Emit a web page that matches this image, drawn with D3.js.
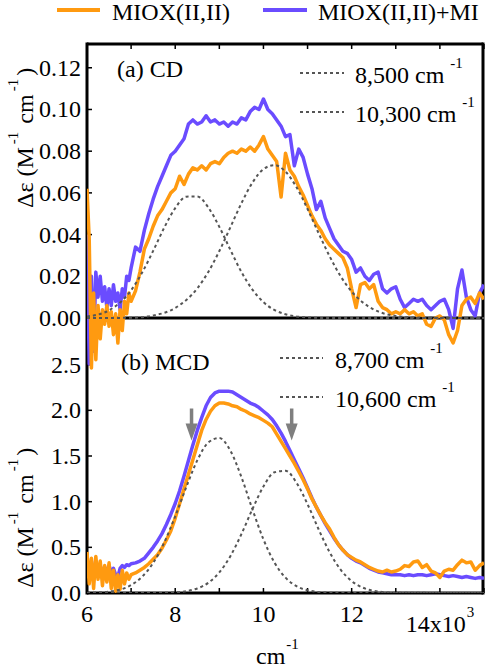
<!DOCTYPE html>
<html><head><meta charset="utf-8">
<script src="https://cdn.jsdelivr.net/npm/d3@7"></script>
</head>
<body style="margin:0"><svg id="c" width="488" height="668"></svg>
<script>
// ---------- data ----------
const seriesNames = ["MIOX(II,II)", "MIOX(II,II)+MI"];
const xGrid = [6.00,6.05,6.10,6.15,6.20,6.25,6.30,6.35,6.40,6.45,6.50,6.55,6.60,6.65,6.70,6.75,6.80,6.85,6.90,6.95,7.00,
  7.1,7.2,7.3,7.4,7.5,7.6,7.7,7.8,7.9,
  8.0,8.1,8.2,8.3,8.4,8.5,8.6,8.7,8.8,8.9,
  9.0,9.1,9.2,9.3,9.4,9.5,9.6,9.7,9.8,9.9,
  10.0,10.1,10.2,10.3,10.4,10.5,10.6,10.7,10.8,10.9,
  11.0,11.1,11.2,11.3,11.4,11.5,11.6,11.7,11.8,11.9,
  12.0,12.1,12.2,12.3,12.4,12.5,12.6,12.7,12.8,12.9,
  13.0,13.1,13.2,13.3,13.4,13.5,13.6,13.7,13.8,13.9,
  14.0,14.1,14.2,14.3,14.4,14.5,14.6,14.7,14.8,14.9,15.0];

// (a) CD, M^-1 cm^-1
const cdOrange = [0.062,0.038,-0.024,0.012,-0.020,0.006,-0.010,0.004,-0.003,0.006,-0.004,0.003,-0.008,0.002,-0.012,0.004,-0.006,0.008,0.002,0.012,0.008,
  0.013,0.022,0.033,0.038,0.044,0.049,0.052,0.056,0.060,
  0.062,0.068,0.064,0.069,0.072,0.071,0.073,0.071,0.074,0.075,
  0.074,0.077,0.079,0.080,0.079,0.081,0.080,0.082,0.080,0.083,
  0.087,0.081,0.078,0.075,0.058,0.079,0.071,0.068,0.063,0.059,
  0.054,0.049,0.045,0.042,0.038,0.035,0.033,0.031,0.029,0.024,
  0.014,0.005,0.016,0.017,0.014,0.016,0.008,0.005,0.004,0.002,
  0.003,0.002,0.004,0.002,0.003,0.001,0.002,-0.003,-0.004,0.000,
  0.001,-0.001,-0.008,-0.012,-0.006,0.006,0.009,0.010,0.007,0.012,0.009];
const cdBlue = [0.040,-0.022,0.020,-0.016,0.022,0.010,0.020,0.008,0.015,0.005,0.014,0.006,0.016,0.008,0.012,0.004,0.014,0.010,0.020,0.018,0.024,
  0.034,0.032,0.042,0.050,0.057,0.063,0.068,0.073,0.078,
  0.080,0.083,0.086,0.093,0.095,0.093,0.094,0.097,0.094,0.095,
  0.093,0.094,0.092,0.094,0.093,0.096,0.095,0.099,0.101,0.100,
  0.105,0.100,0.098,0.095,0.092,0.087,0.088,0.073,0.081,0.077,
  0.069,0.062,0.052,0.056,0.048,0.043,0.038,0.035,0.032,0.031,
  0.028,0.022,0.024,0.020,0.018,0.021,0.022,0.014,0.012,0.014,
  0.015,0.009,0.005,0.007,0.009,0.008,0.009,0.006,0.004,0.006,
  0.008,0.009,0.004,-0.005,0.014,0.023,0.010,0.004,0.001,0.012,0.016];

// (b) MCD
const mcdOrange = [0.45,0.10,0.38,0.05,0.40,0.15,0.35,0.08,0.30,0.12,0.33,0.05,0.25,0.02,0.20,0.04,0.25,0.10,0.22,0.15,0.20,
  0.22,0.25,0.28,0.32,0.37,0.42,0.49,0.58,0.68,
  0.82,0.98,1.14,1.30,1.46,1.62,1.78,1.90,1.99,2.05,
  2.08,2.08,2.07,2.05,2.04,2.01,1.99,1.96,1.94,1.92,
  1.89,1.86,1.82,1.74,1.66,1.58,1.50,1.42,1.33,1.24,
  1.14,1.03,0.94,0.85,0.77,0.70,0.61,0.53,0.47,0.42,
  0.39,0.36,0.34,0.31,0.28,0.26,0.24,0.23,0.25,0.23,
  0.24,0.26,0.30,0.29,0.34,0.35,0.28,0.31,0.24,0.22,
  0.17,0.24,0.26,0.25,0.31,0.36,0.33,0.34,0.25,0.30,0.33];
const mcdBlue = [0.30,0.22,0.35,0.18,0.32,0.25,0.30,0.20,0.28,0.24,0.30,0.22,0.27,0.20,0.18,0.27,0.30,0.28,0.31,0.30,0.32,
  0.33,0.35,0.38,0.44,0.50,0.57,0.65,0.75,0.86,
  0.98,1.12,1.28,1.45,1.62,1.78,1.92,2.05,2.14,2.19,
  2.21,2.21,2.21,2.20,2.17,2.14,2.11,2.08,2.06,2.03,
  1.99,1.95,1.90,1.83,1.75,1.66,1.56,1.46,1.36,1.26,
  1.15,1.04,0.94,0.85,0.76,0.68,0.60,0.53,0.47,0.42,
  0.38,0.35,0.33,0.30,0.27,0.25,0.23,0.22,0.21,0.20,
  0.20,0.20,0.19,0.20,0.19,0.20,0.20,0.19,0.20,0.21,
  0.20,0.19,0.18,0.19,0.18,0.17,0.18,0.17,0.16,0.17,0.16];

// Gaussian components
const cdBand1X = [6.0,6.5,7.0,7.25,7.5,7.75,8.0,8.25,8.5,8.75,9.0,9.25,9.5,9.75,10.0,10.5,11.0,11.5,12.0,15.0];
const cdBand1Y = [0.0007,0.0037,0.0133,0.0218,0.0322,0.0433,0.0527,0.0582,0.0583,0.0530,0.0437,0.0327,0.0221,0.0136,0.0076,0.0018,0.0003,0.0,0.0,0.0];
const cdBand2X = [6.0,7.0,7.5,8.0,8.5,8.75,9.0,9.25,9.5,9.75,10.0,10.25,10.5,10.75,11.0,11.25,11.5,11.75,12.0,12.25,12.5,13.0,13.5,15.0];
const cdBand2Y = [0.0,0.0001,0.0012,0.0048,0.0142,0.0221,0.0321,0.0435,0.055,0.0649,0.0714,0.0733,0.0702,0.0627,0.0523,0.0407,0.0296,0.020,0.0127,0.0075,0.0041,0.001,0.0002,0.0];
const mcdBand1X = [6.0,6.5,7.0,7.25,7.5,7.75,8.0,8.25,8.5,8.75,9.0,9.25,9.5,9.75,10.0,10.25,10.5,10.75,11.0,11.5,12.0,15.0];
const mcdBand1Y = [0.002,0.016,0.087,0.178,0.329,0.552,0.840,1.159,1.452,1.648,1.697,1.559,1.27,0.917,0.587,0.333,0.168,0.075,0.030,0.003,0.0,0.0];
const mcdBand2X = [6.0,7.5,8.0,8.5,8.75,9.0,9.25,9.5,9.75,10.0,10.25,10.5,10.75,11.0,11.25,11.5,11.75,12.0,12.25,12.5,13.0,15.0];
const mcdBand2Y = [0.0,0.0,0.007,0.050,0.112,0.225,0.403,0.644,0.918,1.166,1.322,1.338,1.207,0.972,0.698,0.447,0.255,0.130,0.059,0.024,0.003,0.0];

const cdBandLabels = ["8,500 cm", "10,300 cm"];
const mcdBandLabels = ["8,700 cm", "10,600 cm"];
const arrowX = [8.37, 10.64];
const arrowTop = [2.02, 2.02];
const arrowTip = [1.67, 1.67];

const yTopTicks = [0,0.02,0.04,0.06,0.08,0.10,0.12];
const yBotTicks = [0,0.5,1.0,1.5,2.0,2.5];
const xLabelTicks = [6,8,10,12];
const xMinorTicks = [6,7,8,9,10,11,12,13,14,15];

// ---------- drawing ----------
const FONT = "Liberation Serif";
const ORANGE = "#ff9a10", BLUE = "#6a4cff", DASH = "#555";
const svg = d3.select("#c");
const x = d3.scaleLinear().domain([6,15]).range([87,484]);
const yTop = d3.scaleLinear().domain([0,0.1314]).range([318,44]);
const yBot = d3.scaleLinear().domain([0,3.0]).range([593,319]);

function txt(parent){ return parent.append("text").attr("font-family",FONT); }
function supText(parent, px, py, main, sup, fs, opts={}) {
  const t = txt(parent).attr("x",px).attr("y",py).attr("font-size",fs);
  if (opts.anchor) t.attr("text-anchor",opts.anchor);
  t.append("tspan").text(main);
  t.append("tspan").attr("font-size",15).attr("dx",opts.dx ?? 5).attr("dy",-15).text(sup);
  return t;
}

// top legend
const legend = [[57,100,112,ORANGE],[263,307,318,BLUE]];
legend.forEach((l,i)=>{
  svg.append("line").attr("x1",l[0]).attr("x2",l[1]).attr("y1",10).attr("y2",10).attr("stroke",l[3]).attr("stroke-width",4);
  txt(svg).attr("x",l[2]).attr("y",20).attr("font-size",24).text(seriesNames[i]);
});

// frame
const frame = svg.append("g").attr("stroke","#000").attr("stroke-width",3).attr("fill","none");
frame.append("line").attr("x1",87).attr("x2",87).attr("y1",yTop(0.1314)-1.5).attr("y2",yBot(0)+1.5);
frame.append("line").attr("x1",483).attr("x2",483).attr("y1",yTop(0.1314)-1.5).attr("y2",yBot(0)+1.5);
frame.append("line").attr("x1",87).attr("x2",483).attr("y1",yTop(0.1314)).attr("y2",yTop(0.1314));
frame.append("line").attr("x1",87).attr("x2",483).attr("y1",yTop(0)).attr("y2",yTop(0));
frame.append("line").attr("x1",87).attr("x2",483).attr("y1",yBot(0)).attr("y2",yBot(0));

// ticks and tick labels from the scales
function ticksLeft(yS, vals, fmt){
  vals.forEach(v=>{
    svg.append("line").attr("x1",87).attr("x2",92).attr("y1",yS(v)).attr("y2",yS(v)).attr("stroke","#000").attr("stroke-width",1.5);
    txt(svg).attr("x",81).attr("y",yS(v)+8).attr("text-anchor","end").attr("font-size",24).text(fmt(v));
  });
}
ticksLeft(yTop, yTopTicks, d3.format(".2f"));
ticksLeft(yBot, yBotTicks, d3.format(".1f"));
xLabelTicks.forEach(v=>{
  txt(svg).attr("x",x(v)).attr("y",622).attr("text-anchor","middle").attr("font-size",24).text(String(v));
});
xMinorTicks.forEach(v=>{
  svg.append("line").attr("x1",x(v)).attr("x2",x(v)).attr("y1",yBot(0)).attr("y2",yBot(0)-5).attr("stroke","#000").attr("stroke-width",1.5);
  svg.append("line").attr("x1",x(v)).attr("x2",x(v)).attr("y1",yTop(0.1314)).attr("y2",yTop(0.1314)+5).attr("stroke","#000").attr("stroke-width",1.5);
});
supText(svg, x(14), 632, "14x10", "3", 24, {anchor:"middle", dx:1});
supText(svg, 256, 664, "cm", "-1", 24, {dx:1});

// y axis titles
function yTitle(px, py){
  const t = txt(svg).attr("transform",`translate(${px},${py}) rotate(-90)`).attr("font-size",24);
  t.append("tspan").text("\u0394\u03b5 (M");
  t.append("tspan").attr("font-size",15).attr("dx",3).attr("dy",-15).text("-1");
  t.append("tspan").attr("dy",15).attr("dx",2).text(" cm");
  t.append("tspan").attr("font-size",15).attr("dx",3).attr("dy",-15).text("-1");
  t.append("tspan").attr("dy",15).attr("dx",3).text(")");
}
yTitle(33, 208);
yTitle(33, 588);

// panels: nested svg viewports do the clipping
function drawPanel(vb, yS, blue, orange, b1x, b1y, b2x, b2y){
  const g = svg.append("svg").attr("x",vb[0]).attr("y",vb[1]).attr("width",vb[2]).attr("height",vb[3])
    .attr("viewBox",vb.join(" ")).attr("overflow","hidden");
  const line = d3.line().x((d,i)=>x(xGrid[i])).y(d=>yS(d));
  g.append("path").datum(blue).attr("d",line).attr("fill","none").attr("stroke",BLUE).attr("stroke-width",3.5).attr("stroke-linejoin","round");
  g.append("path").datum(orange).attr("d",line).attr("fill","none").attr("stroke",ORANGE).attr("stroke-width",3.5).attr("stroke-linejoin","round");
  const bl = d3.line().curve(d3.curveMonotoneX).x(d=>x(d[0])).y(d=>yS(d[1]));
  [[b1x,b1y],[b2x,b2y]].forEach(([bx,by])=>{
    g.append("path").datum(bx.map((v,i)=>[v,by[i]])).attr("d",bl).attr("fill","none")
      .attr("stroke",DASH).attr("stroke-width",2).attr("stroke-dasharray","3,3");
  });
}
drawPanel([87,44,397,336], yTop, cdBlue, cdOrange, cdBand1X, cdBand1Y, cdBand2X, cdBand2Y);
drawPanel([87,319,397,274], yBot, mcdBlue, mcdOrange, mcdBand1X, mcdBand1Y, mcdBand2X, mcdBand2Y);

// arrows
arrowX.forEach((ax,i)=>{
  const px = x(ax), top = yBot(arrowTop[i]), tip = yBot(arrowTip[i]);
  svg.append("line").attr("x1",px).attr("x2",px).attr("y1",top).attr("y2",tip-14).attr("stroke","#7f7f7f").attr("stroke-width",3.5);
  svg.append("path").attr("d",`M${px-6},${tip-17}L${px+6},${tip-17}L${px},${tip}Z`).attr("fill","#7f7f7f");
});

// panel labels
txt(svg).attr("x",117).attr("y",77).attr("font-size",24).text("(a) CD");
txt(svg).attr("x",121).attr("y",370).attr("font-size",24).text("(b) MCD");

// band legends
function bandLegend(lx1,lx2,tx,ys,labels){
  labels.forEach((lab,i)=>{
    svg.append("line").attr("x1",lx1).attr("x2",lx2).attr("y1",ys[i]).attr("y2",ys[i])
      .attr("stroke",DASH).attr("stroke-width",2).attr("stroke-dasharray","3,3");
    supText(svg, tx, ys[i]+10, lab, "-1", 24, {dx:6});
  });
}
bandLegend(300,344,355,[73,112],cdBandLabels);
bandLegend(280,323,335,[358,397],mcdBandLabels);
</script></body></html>
